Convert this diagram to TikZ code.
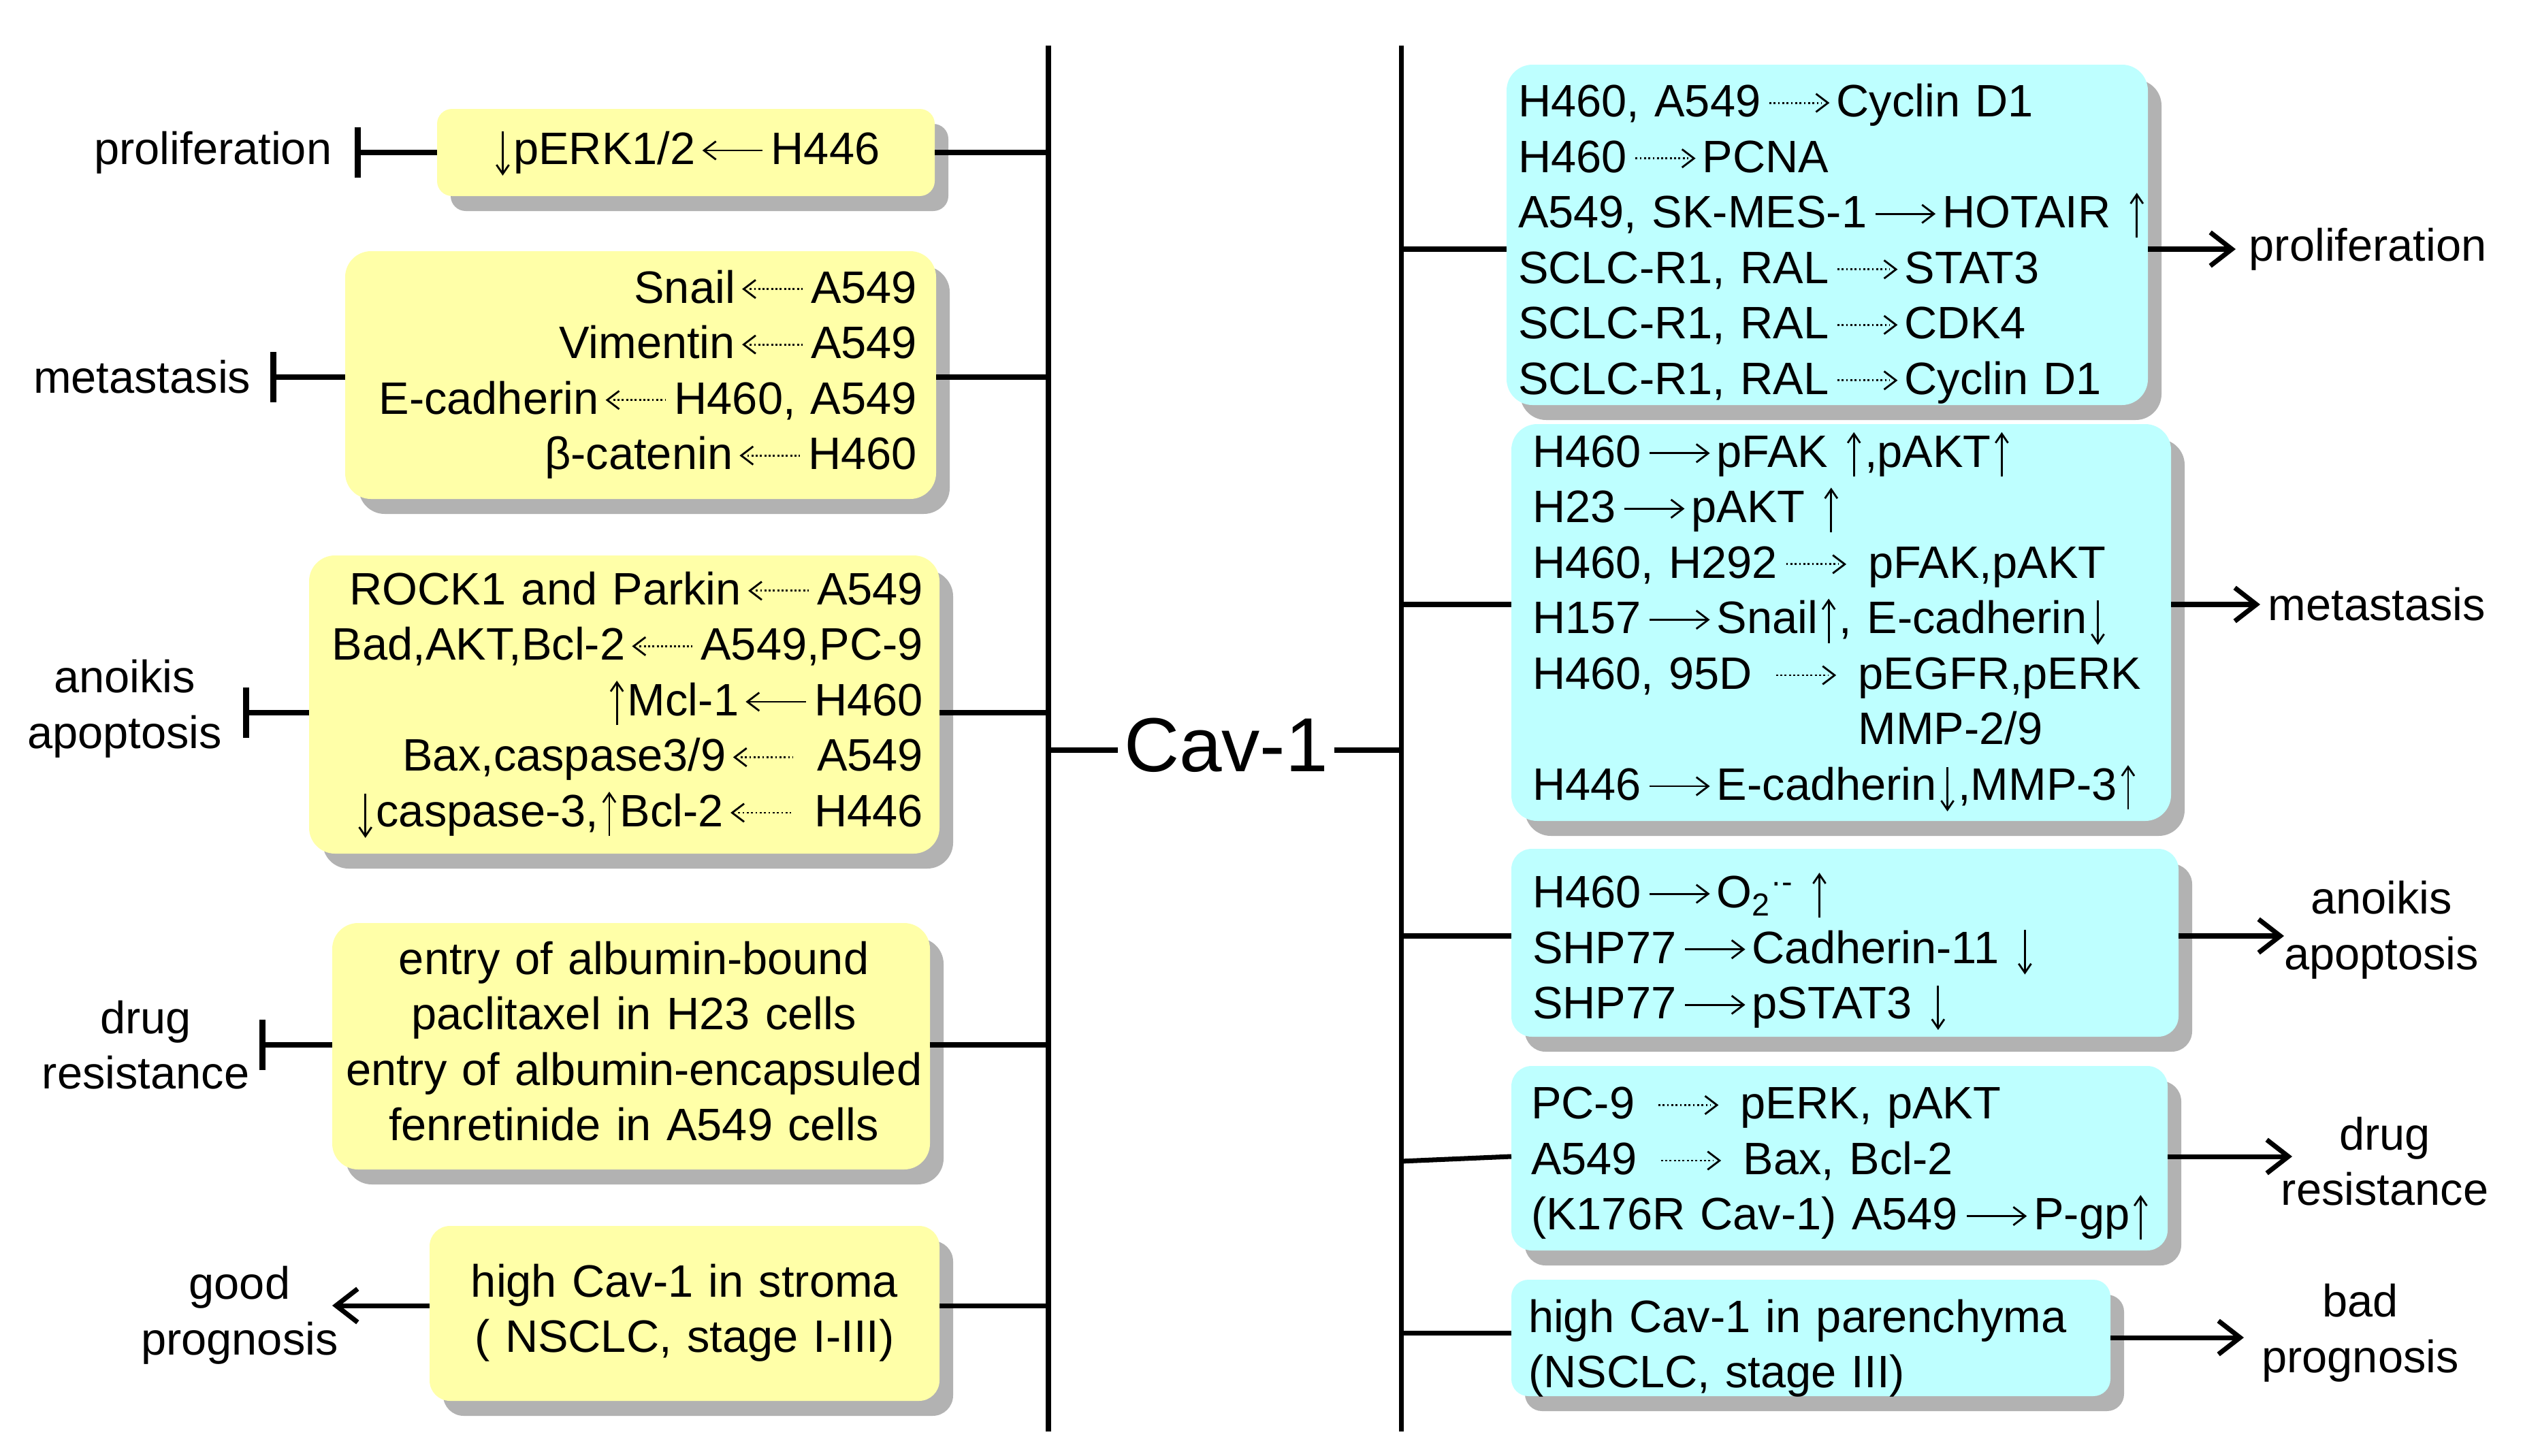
\documentclass[tikz,border=0pt]{standalone}
\usepackage{fontspec}
\setmainfont{Liberation Sans}
\usetikzlibrary{arrows.meta,shadows}

\definecolor{cellyellow}{RGB}{255,255,168}
\definecolor{cellcyan}{RGB}{190,255,255}

\newcommand\dotto{\,\tikz[baseline=-5.8pt,sharp corners,line width=.8pt]{\draw[densely dotted] (0,0) -- (22pt,0); \draw (19.5pt,3.8pt) -- (24.5pt,0) -- (19.5pt,-3.8pt);}\,}
\newcommand\solidto{\,\tikz[baseline=-5.8pt,sharp corners,line width=.8pt]{\draw (0,0) -- (24pt,0); \draw (19.5pt,3.8pt) -- (24.5pt,0) -- (19.5pt,-3.8pt);}\,}
\newcommand\dotfrom{\,\tikz[baseline=-5.8pt,sharp corners,line width=.8pt]{\draw[densely dotted] (2.5pt,0) -- (24.5pt,0); \draw (5pt,3.8pt) -- (0,0) -- (5pt,-3.8pt);}\,}
\newcommand\solidfrom{\,\tikz[baseline=-5.8pt,sharp corners,line width=.8pt]{\draw (0.5pt,0) -- (24.5pt,0); \draw (5pt,3.8pt) -- (0,0) -- (5pt,-3.8pt);}\,}
\newcommand\goesup{\hspace{1.5pt}\tikz[baseline=0pt,sharp corners,line width=.8pt]{\draw (0,-4pt) -- (0,13.6pt); \draw (-2.6pt,10.1pt) -- (0,13.9pt) -- (2.6pt,10.1pt);}\hspace{1.5pt}}
\newcommand\goesdown{\hspace{1.5pt}\tikz[baseline=0pt,sharp corners,line width=.8pt]{\draw (0,-3.7pt) -- (0,13.9pt); \draw (-2.6pt,-0.2pt) -- (0,-4pt) -- (2.6pt,-0.2pt);}\hspace{1.5pt}}

\begin{document}
\begin{tikzpicture}[
  cell/.style={rounded corners=.38cm, outer sep=0pt, inner ysep=0pt,
    font=\fontsize{19}{23.2}\selectfont,
    drop shadow={shadow xshift=.2cm, shadow yshift=-.22cm, fill=black!30, opacity=1}},
  ycell/.style={cell, fill=cellyellow},
  ccell/.style={cell, fill=cellcyan},
  effect/.style={inner sep=0pt, align=center, font=\fontsize{19}{23.2}\selectfont},
  wire/.style={line width=2pt},
  blocks/.style={wire, -{Bar[width=21pt,line width=2.6pt]}},
  leads/.style={wire, -{Straight Barb[length=9pt,width=14pt]}}]
\useasboundingbox (0,0) rectangle (37.31,-21.39);

% left column: inhibited by Cav-1
\node[ycell, text width=6.91cm, inner xsep=.2cm, minimum height=1.28cm, align=center, rounded corners=.22cm] (perk) at (10.075,-2.24) {\goesdown pERK1/2\solidfrom H446};
\node[ycell, text width=8.12cm, inner xsep=.28cm, minimum height=3.64cm, align=right] (emt) at (9.41,-5.51)
  {\begin{tabular}{@{}r@{}}Snail\dotfrom A549\\ Vimentin\dotfrom A549\\ E-cadherin\dotfrom H460, A549\\ β-catenin\dotfrom H460\end{tabular}};
\node[ycell, text width=8.78cm, inner xsep=.24cm, minimum height=4.38cm, align=right] (anoik) at (9.17,-10.35)
  {\begin{tabular}{@{}r@{}}ROCK1 and Parkin\dotfrom A549\\ Bad,AKT,Bcl-2\dotfrom A549,PC-9\\ \goesup Mcl-1\solidfrom H460\\ Bax,caspase3/9\dotfrom\ A549\\ \goesdown caspase-3,\goesup Bcl-2\dotfrom\ H446\end{tabular}};
\node[ycell, text width=8.38cm, inner xsep=.2cm, minimum height=3.62cm, align=center] (albu) at (9.27,-15.37)
  {\begin{tabular}{@{}c@{}}entry of albumin-bound\\ paclitaxel in H23 cells\\ entry of albumin-encapsuled\\ fenretinide in A549 cells\end{tabular}};
\node[ycell, text width=7.09cm, inner xsep=.2cm, minimum height=2.57cm, align=center, rounded corners=.3cm] (stroma) at (10.055,-19.295)
  {\begin{tabular}{@{}c@{}}high Cav-1 in stroma\\ ( NSCLC, stage I-III)\end{tabular}};

% right column: promoted by Cav-1
\node[ccell, text width=9.08cm, inner xsep=.17cm, minimum height=5cm, align=left] (prolif) at (26.84,-3.45)
  {\begin{tabular}{@{}l@{}}H460, A549\dotto Cyclin D1\\ H460\dotto PCNA\\ A549, SK-MES-1\solidto HOTAIR \goesup\\ SCLC-R1, RAL\dotto STAT3\\ SCLC-R1, RAL\dotto CDK4\\ SCLC-R1, RAL\dotto Cyclin D1\\[-8pt]\end{tabular}};
\node[ccell, text width=9.07cm, inner xsep=.31cm, minimum height=5.83cm, align=left] (migr) at (27.045,-9.145)
  {\begin{tabular}{@{}l@{}}H460\solidto pFAK \goesup,pAKT\goesup\\ H23\solidto pAKT \goesup\\ H460, H292\dotto\ pFAK,pAKT\\ H157\solidto Snail\goesup, E-cadherin\goesdown\\ H460, 95D \dotto\ pEGFR,pERK\\ \phantom{H460, 95D \dotto\ }MMP-2/9\\ H446\solidto E-cadherin\goesdown,MMP-3\goesup\end{tabular}};
\node[ccell, text width=9.18cm, inner xsep=.31cm, minimum height=2.76cm, align=left, rounded corners=.3cm] (apop) at (27.10,-13.85)
  {\begin{tabular}{@{}l@{}}H460\solidto O\textsubscript{2}\textsuperscript{·-} \goesup\\ SHP77\solidto Cadherin-11 \goesdown\\ SHP77\solidto pSTAT3 \goesdown\\[-7.8pt]\end{tabular}};
\node[ccell, text width=9.06cm, inner xsep=.29cm, minimum height=2.71cm, align=left, rounded corners=.3cm] (resist) at (27.02,-17.015)
  {\begin{tabular}{@{}l@{}}PC-9 \dotto\ pERK, pAKT\\ A549 \dotto\ Bax, Bcl-2\\ (K176R Cav-1) A549\solidto P-gp\goesup\\[-4.3pt]\end{tabular}};
\node[ccell, text width=8.30cm, inner xsep=.25cm, minimum height=1.71cm, align=left, rounded corners=.25cm] (paren) at (26.60,-19.655)
  {\begin{tabular}{@{}l@{}}high Cav-1 in parenchyma\\ (NSCLC, stage III)\\[-9.3pt]\end{tabular}};

\node[font=\fontsize{32}{38}\selectfont, inner sep=.08cm] (cav) at (18.01,-10.95) {Cav-1};

% outcomes
\node[effect, anchor=east] (lprol) at (4.88,-2.24) {proliferation};
\node[effect, anchor=east] (lmeta) at (3.69,-5.54) {metastasis};
\node[effect] (lapo) at (1.83,-10.41) {anoikis\\apoptosis};
\node[effect] (ldrug) at (2.14,-15.35) {drug\\resistance};
\node[effect] (lgood) at (3.52,-19.32) {good\\prognosis};
\node[effect, anchor=west] (rprol) at (33.03,-3.66) {proliferation};
\node[effect, anchor=west] (rmeta) at (33.31,-8.88) {metastasis};
\node[effect] (rapo) at (34.98,-13.66) {anoikis\\apoptosis};
\node[effect] (rdrug) at (35.03,-17.06) {drug\\resistance};
\node[effect] (rbad) at (34.67,-19.58) {bad\\prognosis};

% spines
\coordinate (ltop) at (15.40,-0.67);
\coordinate (lbot) at (15.40,-21.03);
\coordinate (rtop) at (20.58,-0.67);
\coordinate (rbot) at (20.58,-21.03);
\draw[wire] (ltop) -- (lbot);
\draw[wire] (rtop) -- (rbot);
\coordinate (lc) at (15.40,-11.02);
\coordinate (rc) at (20.58,-11.02);
\draw[wire] (lc) -- (lc -| cav.west);
\draw[wire] (rc -| cav.east) -- (rc);

% left joints and bars
\coordinate (i1) at (15.40,-2.24);
\coordinate (i2) at (15.40,-5.54);
\coordinate (i3) at (15.40,-10.47);
\coordinate (i4) at (15.40,-15.35);
\coordinate (i5) at (15.40,-19.18);
\draw[wire] (i1) -- (i1 -| perk.east);
\draw[wire] (i2) -- (i2 -| emt.east);
\draw[wire] (i3) -- (i3 -| anoik.east);
\draw[wire] (i4) -- (i4 -| albu.east);
\draw[wire] (i5) -- (i5 -| stroma.east);
\coordinate (b1) at (5.21,-2.24);
\coordinate (b2) at (3.97,-5.54);
\coordinate (b3) at (3.57,-10.47);
\coordinate (b4) at (3.81,-15.35);
\coordinate (b5) at (4.88,-19.18);
\draw[blocks] (b1 -| perk.west) -- (b1);
\draw[blocks] (b2 -| emt.west) -- (b2);
\draw[blocks] (b3 -| anoik.west) -- (b3);
\draw[blocks] (b4 -| albu.west) -- (b4);
\draw[leads] (b5 -| stroma.west) -- (b5);

% right joints and arrows
\coordinate (j1) at (20.58,-3.66);
\coordinate (j2) at (20.58,-8.88);
\coordinate (j3) at (20.58,-13.75);
\coordinate (j4) at (20.58,-17.06);
\coordinate (j5) at (20.58,-19.58);
\draw[wire] (j1) -- (j1 -| prolif.west);
\draw[wire] (j2) -- (j2 -| migr.west);
\draw[wire] (j3) -- (j3 -| apop.west);
\draw[wire] (j4) -- ([yshift=.07cm]j4 -| resist.west);
\draw[wire] (j5) -- (j5 -| paren.west);
\coordinate (t1) at (32.84,-3.66);
\coordinate (t2) at (33.20,-8.88);
\coordinate (t3) at (33.55,-13.75);
\coordinate (t4) at (33.67,-16.99);
\coordinate (t5) at (32.96,-19.65);
\draw[leads] (t1 -| prolif.east) -- (t1);
\draw[leads] (t2 -| migr.east) -- (t2);
\draw[leads] (t3 -| apop.east) -- (t3);
\draw[leads] (t4 -| resist.east) -- (t4);
\draw[leads] (t5 -| paren.east) -- (t5);
\end{tikzpicture}
\end{document}
